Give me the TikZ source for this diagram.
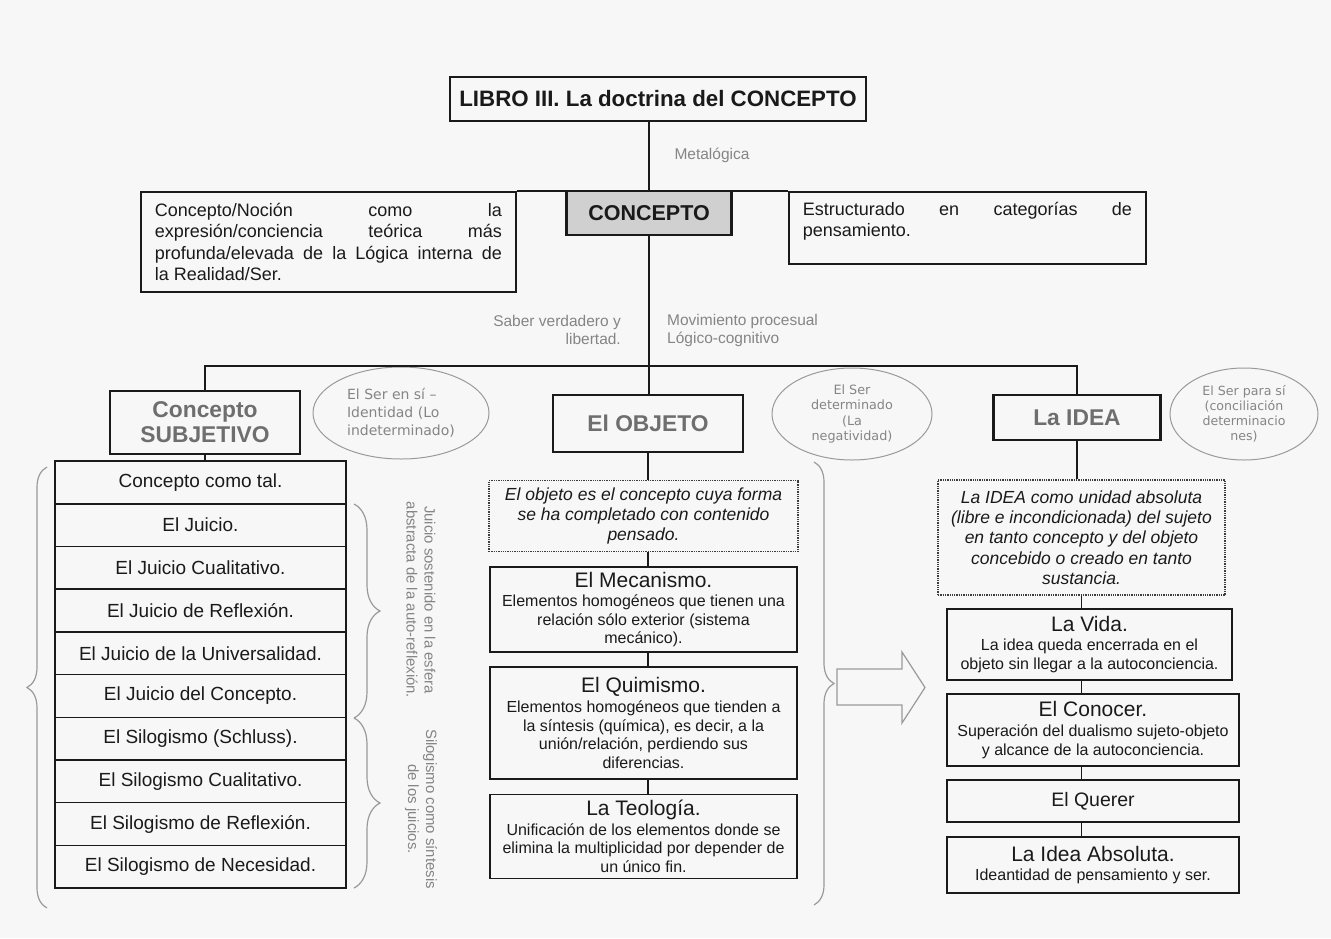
\documentclass[tikz,border=0pt]{standalone}
\usepackage{fontspec}
\setmainfont{Liberation Sans}
\newfontfamily\ellfont{DejaVu Sans}
\usetikzlibrary{shapes.geometric,decorations.pathreplacing}
\definecolor{ink}{HTML}{1A1A1A}
\definecolor{labelgrey}{HTML}{858585}
\definecolor{headgrey}{HTML}{6E6E6E}
\definecolor{linegrey}{HTML}{9A9A9A}
\definecolor{conceptfill}{HTML}{D0D0D0}
\definecolor{bggrey}{HTML}{F7F7F7}
\newcommand{\setfs}[2]{\fontsize{#1}{#2}\selectfont}

\begin{document}
\begin{tikzpicture}[x=1pt, y=-1pt,
  every node/.style={inner sep=0pt, text=ink},
  link/.style={draw=ink, line width=1.6pt},
  sidebox/.style={draw=ink, line width=1.8pt, inner xsep=14pt, align=justify, font=\setfs{18}{21.3}},
  headbox/.style={draw=ink, line width=2.2pt, align=center, text=headgrey, font=\bfseries\setfs{22.8}{25}},
  rowbox/.style={draw=ink, line width=1.5pt, minimum width=291, minimum height=42.7, font=\setfs{19}{21}},
  stepbox/.style={draw=ink, line width=1.7pt, align=center, font=\setfs{16}{18.6}},
  steptitle/.style={font=\setfs{21}{23}},
  defbox/.style={draw=ink!85, line width=1.3pt, densely dotted, align=center, font=\itshape\setfs{17.5}{20.3}},
  serell/.style={ellipse, draw=linegrey, line width=1pt, align=center, text=labelgrey, font=\ellfont\setfs{12.6}{15}},
  lbl/.style={text=labelgrey, font=\setfs{15.5}{18}},
  brc/.style={draw=linegrey, line width=1.2pt, decorate, decoration={brace, amplitude=#1}},
  brc/.default=20]
  \useasboundingbox (0,0) rectangle (1331,938);
  \fill[bggrey] (0,0) rectangle (1331,938);

  % Top level
  \node[draw=ink, line width=2pt, minimum width=416, minimum height=44, font=\bfseries\setfs{22.3}{24}] (libro) at (658,99) {LIBRO III. La doctrina del CONCEPTO};
  \node[draw=ink, line width=2.2pt, fill=conceptfill, minimum width=165, minimum height=44, font=\bfseries\setfs{21.5}{24}] (concepto) at (649,213) {CONCEPTO};
  \node[sidebox, text width=347, minimum height=100, anchor=north west] (nocion) at (140,191)
    {Concepto/Noción como la\linebreak expresión/conciencia teórica más\linebreak profunda/elevada de la Lógica interna de\linebreak la Realidad/Ser.};
  \node[sidebox, text width=329, minimum height=72, anchor=north west] (estruct) at (788,191)
    {Estructurado en categorías de\linebreak pensamiento.\par\vspace{13pt}};
  \node[lbl] (metalog) at (712,155) {Metalógica};
  \node[lbl, align=right, anchor=east] (saber) at (621,330) {Saber verdadero y\\libertad.};
  \node[lbl, align=left, anchor=west] (movim) at (667,330) {Movimiento procesual\\Lógico-cognitivo};

  \draw[link] (libro.south -| concepto) -- (concepto);
  \draw[link] (nocion.north east) -- (estruct.north west);

  % Second level
  \node[headbox, minimum width=190, minimum height=63] (subj) at (205,422.5) {Concepto\\SUBJETIVO};
  \node[headbox, minimum width=190, minimum height=57] (objeto) at (648,423.5) {El OBJETO};
  \node[headbox, minimum width=167, minimum height=45] (idea) at (1077,417.5) {La IDEA};
  \node[serell, align=left, minimum width=176, minimum height=92, font=\ellfont\setfs{14}{18}] (ser1) at (401,413) {El Ser en sí –\\Identidad (Lo\\indeterminado)};
  \node[serell, minimum width=160, minimum height=92, font=\ellfont\setfs{12.8}{15.5}] (ser2) at (852,414) {El Ser\\determinado\\(La\\negatividad)};
  \node[serell, minimum width=148, minimum height=92] (ser3) at (1244,414) {El Ser para sí\\(conciliación\\determinacio\\nes)};

  \draw[link] (concepto.south) -- (concepto.south |- objeto.north);
  \draw[link] (subj.north) -- ++(0,-24) -| (idea.north);

  % Concepto subjetivo
  \node[rowbox] (r1) at (200.5,482.4) {Concepto como tal.};
  \node[rowbox] (r2) at (200.5,525.1) {El Juicio.};
  \node[rowbox] (r3) at (200.5,567.8) {El Juicio Cualitativo.};
  \node[rowbox] (r4) at (200.5,610.5) {El Juicio de Reflexión.};
  \node[rowbox] (r5) at (200.5,653.2) {El Juicio de la Universalidad.};
  \node[rowbox] (r6) at (200.5,695.9) {El Juicio del Concepto.};
  \node[rowbox] (r7) at (200.5,738.6) {El Silogismo (Schluss).};
  \node[rowbox] (r8) at (200.5,781.3) {El Silogismo Cualitativo.};
  \node[rowbox] (r9) at (200.5,824.0) {El Silogismo de Reflexión.};
  \node[rowbox] (r10) at (200.5,866.7) {El Silogismo de Necesidad.};
  \draw[link] (subj.south) -- (subj.south |- r1.north);

  \draw[brc] (47,908) -- (47,467);
  \draw[brc=26] (354,504) -- (354,718);
  \draw[brc=26] (354,718) -- (354,888);
  \node[lbl, rotate=-90, align=center, font=\setfs{14.9}{18}] (juiciolbl) at (421,600) {Juicio sostenido en la esfera\\abstracta de la auto-reflexión.};
  \node[lbl, rotate=-90, align=center, font=\setfs{14.9}{18}] (silolbl) at (421,809) {Silogismo como síntesis\\de los juicios.};

  % El objeto
  \node[defbox, minimum width=309, minimum height=71] (objdef) at (643.5,516) {El objeto es el concepto cuya forma\\se ha completado con contenido\\pensado.};
  \node[stepbox, minimum width=307, minimum height=85] (meca) at (643.5,609.5)
    {{\setfs{21}{23}El Mecanismo.}\\[1pt]Elementos homogéneos que tienen una\\relación sólo exterior (sistema\\mecánico).};
  \node[stepbox, minimum width=307, minimum height=112] (quim) at (643.5,723)
    {{\setfs{21}{23}El Quimismo.}\\[1pt]Elementos homogéneos que tienden a\\la síntesis (química), es decir, a la\\unión/relación, perdiendo sus\\diferencias.};
  \node[stepbox, minimum width=307, minimum height=84] (teol) at (643.5,836.5)
    {{\setfs{21}{23}La Teología.}\\[1pt]Unificación de los elementos donde se\\elimina la multiplicidad por depender de\\un único fin.};
  \draw[link] (objeto.south) -- (objeto.south |- objdef.north);
  \draw[link] (objdef.south -| objeto) -- (meca.north -| objeto);
  \draw[link] (meca.south -| objeto) -- (quim.north -| objeto);
  \draw[link] (quim.south -| objeto) -- (teol.north -| objeto);

  \draw[brc] (814,462) -- (814,905);
  \draw[linegrey, line width=1.2pt] (837,669) -- (902,669) -- (902,652) -- (925,687.5) -- (902,723) -- (902,705) -- (837,705) -- cycle;

  % La idea
  \node[defbox, minimum width=287, minimum height=115] (ideadef) at (1081.5,537.5) {La IDEA como unidad absoluta\\(libre e incondicionada) del sujeto\\en tanto concepto y del objeto\\concebido o creado en tanto\\sustancia.};
  \node[stepbox, minimum width=285, minimum height=71] (vida) at (1089.5,644.5)
    {{\setfs{21}{23}La Vida.}\\[1pt]La idea queda encerrada en el\\objeto sin llegar a la autoconciencia.};
  \node[stepbox, minimum width=292, minimum height=72] (conocer) at (1093,730)
    {{\setfs{21}{23}El Conocer.}\\[1pt]Superación del dualismo sujeto-objeto\\y alcance de la autoconciencia.};
  \node[stepbox, minimum width=292, minimum height=42, font=\setfs{19.5}{22}] (querer) at (1093,801) {El Querer};
  \node[stepbox, minimum width=292, minimum height=56] (absol) at (1093,865)
    {{\setfs{21}{23}La Idea Absoluta.}\\[1pt]Ideantidad de pensamiento y ser.};
  \draw[link] (idea.south) -- (idea.south |- ideadef.north);
  \draw[link] (ideadef.south) -- (ideadef.south |- vida.north);
  \draw[link] (vida.south -| ideadef) -- (conocer.north -| ideadef);
  \draw[link] (conocer.south -| ideadef) -- (querer.north -| ideadef);
  \draw[link] (querer.south -| ideadef) -- (absol.north -| ideadef);
\end{tikzpicture}
\end{document}
